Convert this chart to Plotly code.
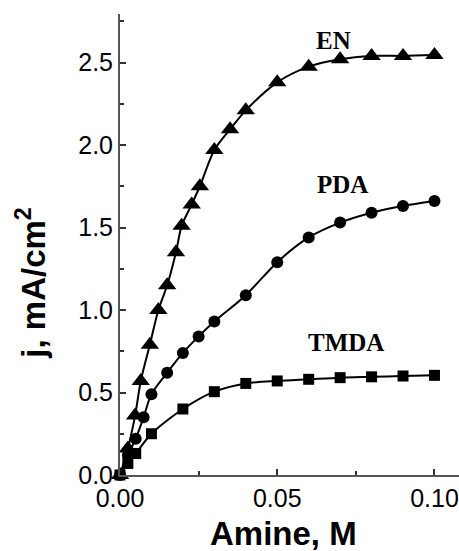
import plotly.graph_objects as go

# Current density vs. amine concentration for three diamines
en_x = [0, 0.0025, 0.0048, 0.0066, 0.0095, 0.0122, 0.015, 0.0178, 0.0196, 0.0228,
        0.0254, 0.03, 0.035, 0.04, 0.05, 0.06, 0.07, 0.08, 0.09, 0.10]
en_y = [0, 0.16, 0.36, 0.57, 0.79, 1.0, 1.15, 1.35, 1.51, 1.64,
        1.75, 1.97, 2.095, 2.21, 2.38, 2.475, 2.52, 2.54, 2.54, 2.545]

pda_x = [0, 0.0025, 0.005, 0.0075, 0.01, 0.015, 0.02, 0.025, 0.03, 0.04,
         0.05, 0.06, 0.07, 0.08, 0.09, 0.10]
pda_y = [0, 0.12, 0.22, 0.35, 0.49, 0.62, 0.74, 0.84, 0.93, 1.09,
         1.29, 1.44, 1.53, 1.59, 1.63, 1.66]

tmda_x = [0, 0.0025, 0.005, 0.01, 0.02, 0.03, 0.04, 0.05, 0.06, 0.07, 0.08, 0.09, 0.10]
tmda_y = [0, 0.07, 0.13, 0.25, 0.40, 0.505, 0.555, 0.57, 0.58, 0.59, 0.595, 0.60, 0.604]

series = [
    ("EN", en_x, en_y, "triangle-up", 16),
    ("PDA", pda_x, pda_y, "circle", 12),
    ("TMDA", tmda_x, tmda_y, "square", 11),
]

# label positions (data coordinates)
label_pos = {"EN": (0.068, 2.636), "PDA": (0.0706, 1.758), "TMDA": (0.0718, 0.806)}

fig = go.Figure()
for name, xs, ys, sym, sz in series:
    fig.add_trace(go.Scatter(
        x=xs, y=ys, mode="lines+markers", name=name,
        line=dict(color="black", width=2, shape="spline", smoothing=0.8),
        marker=dict(symbol=sym, size=sz, color="black"),
        cliponaxis=False, showlegend=False,
    ))

for name, (lx, ly) in label_pos.items():
    fig.add_annotation(
        x=lx, y=ly, xref="x", yref="y", text=f"<b>{name}</b>", showarrow=False,
        font=dict(family="Times New Roman, Liberation Serif, serif", size=25, color="black"),
    )

tick_font = dict(family="Arial, Liberation Sans, sans-serif", size=25, color="black")
title_font = dict(family="Arial, Liberation Sans, sans-serif", size=33, color="black")

fig.add_annotation(
    x=-0.2625, y=0.415, xref="paper", yref="paper", text="<b>j, mA/cm<sup>2</sup></b>",
    textangle=-90, showarrow=False, font=title_font, xanchor="center", yanchor="middle",
)
fig.add_annotation(
    x=0.482, y=-0.127, xref="paper", yref="paper", text="<b>Amine, M</b>",
    showarrow=False, font=title_font, xanchor="center", yanchor="middle",
)

axis_common = dict(
    showline=True, linecolor="#555", linewidth=2, showgrid=False, zeroline=False,
    ticks="inside", ticklen=6, tickwidth=1.5, tickcolor="#333", tickfont=tick_font,
    mirror=False,
)
fig.update_xaxes(range=[0, 0.1078], dtick=0.05, tickformat=".2f",
                 minor=dict(dtick=0.025, ticks="inside", ticklen=4, tickcolor="#333"),
                 **axis_common)
fig.update_yaxes(range=[0, 2.794], dtick=0.5, tickformat=".1f",
                 minor=dict(dtick=0.25, ticks="inside", ticklen=4, tickcolor="#333"),
                 **axis_common)

fig.update_layout(
    width=459, height=551,
    margin=dict(l=120, r=0, t=14, b=76),
    plot_bgcolor="white", paper_bgcolor="white",
)

fig.write_html("out.html")
